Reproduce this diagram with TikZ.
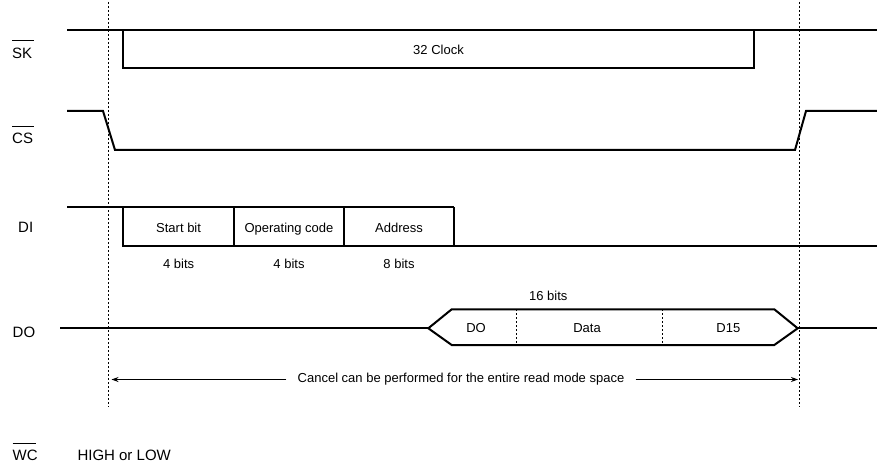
\documentclass[tikz,border=0pt]{standalone}
\usepackage{fontspec}
\setmainfont{Liberation Sans}
\usetikzlibrary{arrows.meta}
\tikzset{
  sig/.style={line width=2pt, line join=miter},
  guide/.style={line width=0.8pt, dash pattern=on 2pt off 2pt},
  divider/.style={line width=0.8pt, dash pattern=on 2pt off 2pt},
  lbl/.style={inner sep=0pt, anchor=base west, font=\fontsize{15}{18}\selectfont},
  txt/.style={inner sep=0pt, anchor=base, font=\fontsize{13}{15}\selectfont},
  ovl/.style={line width=1pt},
  span/.style={line width=0.9pt},
}
\begin{document}
\begin{tikzpicture}[x=1pt,y=-1pt]
\useasboundingbox (0,0) rectangle (877,465);
% guides
\draw[guide] (108.3,2) -- (108.3,407);
\draw[guide] (799.3,2) -- (799.3,407);
% labels
\node[lbl] (sk) at (12,58.3) {SK};
\draw[ovl] (12,41) -- (34,41);
\node[lbl] (cs) at (12,144) {CS};
\draw[ovl] (12,127) -- (34,127);
\node[lbl] (di) at (18,232.7) {DI};
\node[lbl] (do) at (12.5,337.3) {DO};
\node[lbl] (wc) at (12.5,460) {WC};
\draw[ovl] (12.5,443) -- (36,443);
\node[lbl] (hl) at (77.3,460) {HIGH or LOW};
% SK
\draw[sig] (67,30) -- (877,30);
\draw[sig] (123.3,30) -- (123.3,68) -- (754,68) -- (754,30);
\node[txt] (clk) at (438.5,54.6) {32 Clock};
% CS
\draw[sig] (67,111) -- (103,111) -- (115,150) -- (795,150) -- (806,111) -- (877,111);
% DI
\draw[sig] (67,207.3) -- (454,207.3);
\draw[sig] (123.3,207.3) -- (123.3,245.7) -- (877,245.7);
\draw[sig] (234,207.3) -- (234,245.7);
\draw[sig] (344,207.3) -- (344,245.7);
\draw[sig] (454,207.3) -- (454,245.7);
\node[txt] (sb) at (178.6,232.3) {Start bit};
\node[txt] (oc) at (289,232.3) {Operating code};
\node[txt] (ad) at (399,232.3) {Address};
\node[txt] (b1) at (178.6,268) {4 bits};
\node[txt] (b2) at (289,268) {4 bits};
\node[txt] (b3) at (399,268) {8 bits};
% DO
\draw[sig] (60,328.3) -- (428.3,328.3);
\draw[sig] (428.3,328.3) -- (451.7,309.3) -- (774.3,309.3) -- (797.7,328.3) -- (774.3,345) -- (451.7,345) -- cycle;
\draw[sig] (797.7,328.3) -- (877,328.3);
\draw[divider] (516,309.3) -- (516,345);
\draw[divider] (662.7,309.3) -- (662.7,345);
\node[txt] (b16) at (548.3,300.5) {16 bits};
\node[txt] (d0) at (476,332.6) {DO};
\node[txt] (dd) at (587,332.6) {Data};
\node[txt] (d15) at (728.3,332.6) {D15};
% span arrow
\node[txt, anchor=center, inner xsep=11pt] (cancel) at (461,379.5) {Cancel can be performed for the entire read mode space};
\coordinate (al) at (111.5,379.5);
\coordinate (ar) at (798,379.5);
\draw[span, -{Stealth[length=7pt,width=5pt]}] (cancel.west) -- (al);
\draw[span, -{Stealth[length=7pt,width=5pt]}] (cancel.east) -- (ar);
\end{tikzpicture}
\end{document}
